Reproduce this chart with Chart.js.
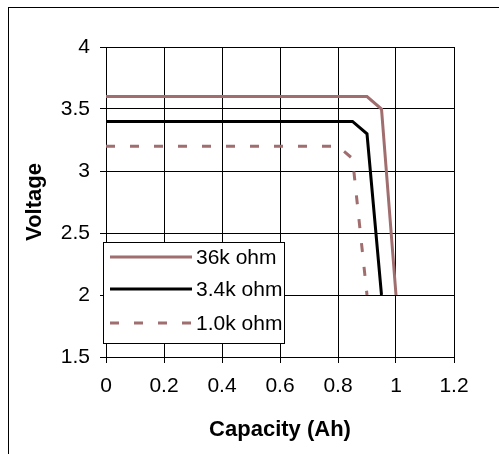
<!DOCTYPE html>
<html>
<head>
<meta charset="utf-8">
<script src="https://cdn.jsdelivr.net/npm/chart.js@4/dist/chart.umd.min.js"></script>
<style>
  html, body { margin: 0; padding: 0; background: #fff; }
  #frame { position: absolute; left: 8px; top: 7px; width: 600px; height: 600px;
           border-left: 1px solid #000; border-top: 1px solid #000; }
  #wrap { position: absolute; left: 0; top: 0; width: 499px; height: 454px; }
</style>
</head>
<body>
<div id="frame"></div>
<div id="wrap"><canvas id="chart"></canvas></div>
<script>
// capacity (Ah) / voltage pairs
const cap36k = [0, 0.9, 0.95, 1.0];
const volt36k = [3.6, 3.6, 3.5, 2.0];
const cap34k = [0, 0.85, 0.9, 0.95];
const volt34k = [3.4, 3.4, 3.3, 2.0];
const cap10k = [0, 0.8, 0.85, 0.9];
const volt10k = [3.2, 3.2, 3.1, 2.0];
const seriesNames = ['36k ohm', '3.4k ohm', '1.0k ohm'];

const pink = '#a06e6e';
const fontName = '"Liberation Sans", Arial, sans-serif';

const toPoints = (xs, ys) => xs.map((x, i) => ({ x, y: ys[i] }));

// legend box inside the plot, drawn from the datasets
const boxLegend = {
  id: 'boxLegend',
  afterDraw(chart) {
    const ctx = chart.ctx;
    const rows = [257, 289, 323];
    ctx.save();
    ctx.fillStyle = '#fff';
    ctx.fillRect(103, 242, 181, 101);
    ctx.strokeStyle = '#000';
    ctx.lineWidth = 1;
    ctx.strokeRect(103.5, 242.5, 181, 101);
    chart.data.datasets.forEach((ds, i) => {
      ctx.beginPath();
      ctx.strokeStyle = ds.borderColor;
      ctx.lineWidth = ds.borderWidth;
      ctx.setLineDash(ds.borderDash || []);
      ctx.moveTo(110, rows[i]);
      ctx.lineTo(192, rows[i]);
      ctx.stroke();
      ctx.setLineDash([]);
      ctx.fillStyle = '#000';
      ctx.font = '21px ' + fontName;
      ctx.textBaseline = 'middle';
      ctx.fillText(ds.label, 196, rows[i] + 1);
    });
    ctx.restore();
  }
};

const fmt = v => String(Number(v.toFixed(1)));

new Chart(document.getElementById('chart'), {
  type: 'scatter',
  data: {
    datasets: [
      { label: seriesNames[0], data: toPoints(cap36k, volt36k), borderColor: pink, borderWidth: 3 },
      { label: seriesNames[1], data: toPoints(cap34k, volt34k), borderColor: '#000', borderWidth: 3 },
      { label: seriesNames[2], data: toPoints(cap10k, volt10k), borderColor: pink, borderWidth: 3, borderDash: [9, 15] },
    ].map(d => Object.assign(d, { showLine: true, pointRadius: 0, fill: false, tension: 0 })),
  },
  options: {
    responsive: true,
    maintainAspectRatio: false,
    animation: false,
    layout: { padding: { top: 47, right: 45, left: 0, bottom: 0 } },
    plugins: { legend: { display: false }, tooltip: { enabled: false } },
    scales: {
      x: {
        type: 'linear', min: 0, max: 1.2,
        ticks: { stepSize: 0.2, color: '#000', padding: 11, font: { family: fontName, size: 21 }, callback: fmt },
        grid: { color: '#000', lineWidth: 1, tickLength: 6 },
        border: { color: '#000' },
        title: { display: true, text: 'Capacity (Ah)', color: '#000', padding: { top: 0, bottom: 11 },
                 font: { family: fontName, size: 22, weight: 'bold' } },
        afterFit(s) { s.height = 97; },
      },
      y: {
        type: 'linear', min: 1.5, max: 4,
        ticks: { stepSize: 0.5, color: '#000', padding: 10, font: { family: fontName, size: 21 }, callback: fmt },
        grid: { color: '#000', lineWidth: 1, tickLength: 6 },
        border: { color: '#000' },
        title: { display: true, text: 'Voltage', color: '#000', padding: { top: 22, bottom: 0 },
                 font: { family: fontName, size: 22, weight: 'bold' } },
        afterFit(s) { s.width = 106; },
      },
    },
  },
  plugins: [boxLegend],
});
</script>
</body>
</html>
